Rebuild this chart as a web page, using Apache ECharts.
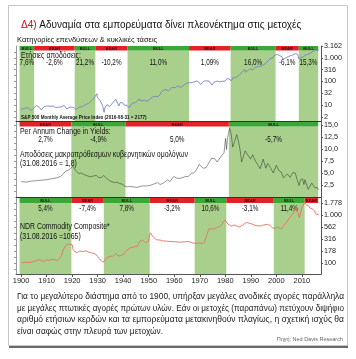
<!DOCTYPE html>
<html><head><meta charset="utf-8">
<script src="https://cdn.jsdelivr.net/npm/echarts@6/dist/echarts.min.js"></script>
<style>html,body{margin:0;padding:0;background:#fff}#c{width:356px;height:359px}</style>
</head><body><div id="c"></div>
<script>
// ---------- DATA ----------
const spYears=[1900.0,1900.5,1901.0,1901.4,1901.8,1902.3,1902.9,1903.5,1903.9,1904.5,1905.0,1905.5,1906.0,1906.6,1907.2,1907.9,1908.5,1909.0,1909.7,1910.3,1910.6,1911.2,1911.9,1912.6,1913.4,1914.2,1914.9,1915.6,1916.3,1916.9,1917.5,1917.9,1918.5,1919.2,1919.8,1920.5,1921.0,1921.6,1922.3,1922.9,1923.5,1923.9,1924.6,1925.2,1925.9,1926.4,1926.9,1927.5,1928.0,1928.6,1929.0,1929.4,1929.7,1929.9,1930.3,1930.9,1931.3,1931.9,1932.5,1932.8,1933.2,1933.6,1934.2,1934.7,1935.3,1935.9,1936.5,1937.1,1937.9,1938.3,1938.8,1939.3,1939.8,1940.4,1940.9,1941.5,1942.3,1942.9,1943.5,1944.2,1944.9,1945.5,1946.3,1946.8,1947.5,1948.4,1949.3,1949.9,1950.5,1951.0,1951.6,1952.4,1953.0,1953.7,1954.5,1955.0,1955.7,1956.3,1957.0,1957.8,1958.5,1959.0,1959.6,1960.4,1960.8,1961.5,1961.9,1962.5,1963.0,1963.9,1964.6,1965.4,1965.9,1966.4,1966.8,1967.5,1968.1,1968.9,1969.5,1970.4,1970.9,1971.4,1971.9,1972.5,1973.0,1973.6,1974.2,1974.8,1975.5,1976.2,1976.9,1977.7,1978.2,1978.7,1979.4,1979.9,1980.3,1980.9,1981.6,1982.5,1982.9,1983.5,1984.4,1984.9,1985.6,1986.3,1986.8,1987.6,1987.9,1988.6,1989.6,1990.3,1990.8,1991.5,1992.2,1992.9,1993.6,1994.3,1994.9,1995.6,1996.2,1996.8,1997.5,1998.1,1998.7,1999.0,1999.5,2000.2,2000.7,2001.2,2001.7,2002.2,2002.7,2003.2,2003.7,2004.2,2004.8,2005.5,2006.3,2006.9,2007.5,2007.8,2008.4,2008.9,2009.2,2009.7,2010.3,2010.6,2011.3,2011.8,2012.3,2012.9,2013.5,2014.0,2014.6,2015.4,2015.7,2016.1,2016.4,2016.67];
const spValues=[6.6,6.4,7.3,8.2,7.6,8.3,7.7,6.6,5.9,6.6,7.8,8.6,9.6,9.0,8.1,6.3,7.4,8.6,10.2,9.3,8.1,9.0,8.4,9.2,8.0,8.1,7.4,8.4,9.2,9.7,9.0,6.9,7.7,8.3,9.4,8.1,7.1,6.6,7.9,8.4,8.8,8.5,9.1,10.5,12.2,11.8,13.3,15.2,17.2,19.2,23.5,25.0,30.5,21.5,24.5,16.0,15.4,9.7,5.0,7.5,6.3,10.5,10.2,8.8,9.5,12.6,15.0,18.0,11.5,9.2,12.8,11.0,12.7,10.0,10.7,9.9,7.8,9.3,12.0,12.0,13.0,14.8,18.5,15.0,15.2,16.2,14.5,16.5,18.0,21.3,22.5,23.7,26.0,23.2,29.0,36.0,42.5,46.5,45.0,40.5,45.5,55.5,59.0,55.0,53.5,65.5,71.0,55.5,65.0,72.5,83.0,88.0,91.5,89.0,77.5,93.0,90.0,106.5,96.0,76.0,84.0,101.0,93.0,107.0,118.0,104.0,96.0,70.0,92.0,101.0,104.0,97.0,88.0,102.0,100.0,104.0,102.0,137.0,130.0,110.0,138.0,165.0,155.0,166.0,189.0,235.0,238.0,320.0,242.0,265.0,345.0,340.0,310.0,385.0,410.0,425.0,450.0,455.0,460.0,560.0,650.0,740.0,915.0,1000.0,1000.0,1215.0,1370.0,1410.0,1480.0,1250.0,1080.0,1120.0,850.0,860.0,1000.0,1130.0,1150.0,1210.0,1300.0,1400.0,1500.0,1530.0,1380.0,880.0,760.0,1050.0,1200.0,1070.0,1340.0,1180.0,1390.0,1420.0,1640.0,1800.0,1960.0,2100.0,1950.0,1950.0,2080.0,2177.0];

const bondYears=[1900.0,1902.0,1904.0,1906.0,1908.0,1910.0,1912.0,1914.0,1915.5,1916.5,1917.5,1918.5,1919.3,1920.2,1920.8,1921.5,1922.5,1923.5,1925.0,1927.0,1928.5,1929.5,1930.5,1931.5,1932.3,1933.5,1935.0,1936.5,1937.5,1938.5,1939.5,1940.5,1941.5,1942.5,1944.0,1945.5,1946.5,1947.5,1949.0,1950.5,1952.0,1953.5,1954.5,1956.0,1957.5,1958.3,1959.8,1961.0,1962.5,1964.0,1965.5,1966.7,1967.5,1968.5,1969.8,1970.5,1971.3,1972.5,1973.7,1974.7,1975.8,1976.8,1977.5,1978.5,1979.5,1980.1,1980.5,1980.9,1981.7,1982.3,1982.9,1983.6,1984.5,1985.2,1985.9,1986.4,1987.0,1987.8,1988.5,1989.2,1989.9,1990.7,1991.8,1992.5,1993.7,1994.8,1995.9,1996.6,1997.9,1998.8,2000.0,2001.0,2001.9,2002.8,2003.4,2004.3,2005.4,2006.5,2007.4,2008.1,2008.9,2009.5,2010.3,2010.8,2011.2,2012.5,2013.2,2013.9,2014.5,2015.1,2015.5,2016.0,2016.5,2016.67];
const bondValues=[3.2,3.1,3.3,3.4,3.5,3.6,3.8,4.0,4.3,4.8,5.4,5.6,5.9,6.4,6.0,5.5,4.9,5.0,4.6,4.2,4.4,4.5,4.0,4.1,4.5,3.9,3.3,3.0,3.1,2.8,2.7,2.3,2.1,2.2,2.1,2.0,2.2,2.3,2.3,2.4,2.7,3.0,2.6,3.0,3.6,3.2,4.3,3.9,3.9,4.2,4.3,4.9,5.0,5.5,6.8,7.1,6.0,6.1,7.3,8.1,8.0,7.3,7.6,8.6,9.2,12.2,9.9,12.4,14.3,13.2,10.4,11.5,13.0,11.5,9.5,7.3,7.5,9.6,9.0,9.0,7.9,8.8,7.5,7.4,5.9,7.9,6.0,7.0,5.9,5.0,6.6,5.5,5.2,4.0,3.6,4.8,4.1,5.1,5.0,3.7,2.4,3.6,3.8,2.6,3.6,1.6,2.0,2.9,2.5,1.9,2.3,2.0,1.5,1.6];

const comYears=[1900.0,1901.5,1903.0,1904.6,1906.0,1907.5,1908.5,1910.0,1911.0,1912.5,1914.0,1915.0,1915.8,1916.5,1917.4,1918.0,1918.6,1919.3,1920.0,1920.4,1921.0,1922.0,1923.0,1924.3,1925.5,1926.5,1928.0,1929.2,1930.0,1931.0,1932.2,1932.9,1933.8,1935.0,1936.2,1937.3,1938.0,1939.0,1940.0,1941.0,1942.5,1944.0,1945.5,1946.5,1947.5,1948.0,1949.0,1949.8,1950.6,1951.3,1952.0,1953.0,1954.5,1955.5,1957.0,1958.3,1960.0,1962.0,1964.0,1965.5,1966.5,1968.0,1969.5,1970.5,1971.3,1972.0,1972.8,1973.6,1974.3,1975.2,1976.5,1977.8,1978.8,1979.8,1980.4,1981.0,1982.3,1983.5,1984.4,1985.5,1986.5,1987.5,1988.3,1989.5,1990.8,1992.0,1993.8,1995.0,1996.5,1997.5,1998.8,1999.5,2000.5,2001.8,2002.7,2004.0,2005.3,2006.5,2007.7,2008.2,2008.6,2009.0,2009.9,2010.5,2011.2,2011.8,2012.6,2013.1,2014.0,2014.8,2015.5,2016.0,2016.67];
const comValues=[100,104,102,106,112,118,108,116,114,120,112,122,140,185,230,228,248,272,240,190,172,165,178,172,180,168,160,152,135,115,104,115,130,138,140,158,140,142,150,175,205,215,225,280,300,310,262,280,420,380,340,305,300,290,285,280,278,272,275,282,270,255,262,258,252,285,395,520,480,505,540,575,650,790,720,650,580,620,590,560,600,660,700,670,640,600,590,620,640,610,520,505,560,510,590,700,890,1050,1460,1250,1050,880,1350,1580,1850,1600,1550,1400,1350,1250,1050,980,1000];

// cycles
const stockEdges=[1899.4,1905.1,1921.0,1929.1,1941.7,1965.8,1982.1,1999.7,2008.8,2016.4];
const stockTypes=['BULL','BEAR','BULL','BEAR','BULL','BEAR','BULL','BEAR','BULL'];
const stockReturns=['7,6%','-2,6%','21,2%','-10,2%','11,0%','1,09%','16,0%','-6,1%','15,3%'];
const bondEdges=[1899.4,1919.7,1940.9,1981.4,2016.4];
const bondTypes=['BEAR','BULL','BEAR','BULL'];
const bondReturns=['2,7%','-4,9%','5,0%','-5,7%'];
const comEdges=[1899.4,1919.7,1932.4,1950.4,1968.0,1980.4,1999.0,2011.1,2016.4];
const comTypes=['BULL','BEAR','BULL','BEAR','BULL','BEAR','BULL','BEAR'];
const comReturns=['5,4%','-7,4%','7,8%','-3,2%','10,6%','-3,1%','11,4%',''];

// tick labels
const yearTicks=[1900,1910,1920,1930,1940,1950,1960,1970,1980,1990,2000,2010];
const stockTickValues=[3.162,10,31.62,100,316.2,1000,3162];
const stockTickLabels=['2','10','32','100','316','1.000','3.162'];
const bondTickValues=[2.5,5,7.5,10,12.5,15];
const bondTickLabels=['2,5','5,0','7,5','10,0','12,5','15,0'];
const comTickValues=[100,177.8,316.2,562.3,1000,1778];
const comTickLabels=['100','178','316','562','1.000','1.778'];

// ---------- CHART ----------
const SANS="'Liberation Sans',Arial,sans-serif";
const SX=0.77;   // condensing for captions
const SXP=0.74;  // condensing for return labels
const chart=echarts.init(document.getElementById('c'),null,{renderer:'canvas'});
const L=Math.log10;
const C={bodyGreen:'#a8d08c',hdrGreen:'#3da638',hdrRed:'#e3212a'};

const panels=[
 {top:46,h:75,min:L(3162)-75/23.67,max:L(3162),ticks:stockTickValues.map(L),labels:stockTickLabels,
  leftTicks:[0.5,0.75,1,1.25,1.5,1.75,2,2.25,2.5,2.75,3,3.25],
  edges:stockEdges,types:stockTypes,rets:stockReturns,retDy:17,hdr:4.5},
 {top:122,h:75,min:0,max:15.625,ticks:bondTickValues,labels:bondTickLabels,
  leftTicks:[1.25,2.5,3.75,5,6.25,7.5,8.75,10,11.25,12.5,13.75,15],
  edges:bondEdges,types:bondTypes,rets:bondReturns,retDy:17.3,hdr:4.5},
 {top:198,h:76,min:2-11/48,max:3.25+5/48,ticks:comTickValues.map(L),labels:comTickLabels,
  leftTicks:[1.875,2,2.125,2.25,2.375,2.5,2.625,2.75,2.875,3,3.125,3.25],
  edges:comEdges,types:comTypes,rets:comReturns,retDy:10.5,hdr:5}
];

const grid=[],xAxis=[],yAxis=[],series=[];
panels.forEach((p,g)=>{
  grid.push({left:16,width:305,top:p.top,height:p.h});
  xAxis.push({type:'value',gridIndex:g,min:1898,max:2017.5,
    axisLine:{show:true,onZero:false,lineStyle:{color:g<2?'#333':'#555',width:1}},
    axisTick:{show:g===2,length:3,customValues:yearTicks,lineStyle:{color:'#555'}},
    axisLabel:{show:g===2,customValues:yearTicks,formatter:v=>String(Math.round(v)),fontFamily:SANS,fontSize:7.5,color:'#222',margin:3},
    splitLine:{show:false}});
  const lab=p.labels, tv=p.ticks;
  yAxis.push({type:'value',gridIndex:g,position:'right',min:p.min,max:p.max,
    axisLine:{show:true,lineStyle:{color:'#555'}},
    axisTick:{show:true,length:2,customValues:tv,lineStyle:{color:'#555'}},
    axisLabel:{show:true,customValues:tv,margin:3,fontFamily:SANS,fontSize:7.2,color:'#222',
      formatter:v=>{let b=0,d=1e9;tv.forEach((t,i)=>{const e=Math.abs(t-v);if(e<d){d=e;b=i;}});return lab[b];}},
    splitLine:{show:false}});
  yAxis.push({type:'value',gridIndex:g,position:'left',min:p.min,max:p.max,
    axisLine:{show:true,lineStyle:{color:'#999'}},
    axisTick:{show:true,length:2,customValues:p.leftTicks,lineStyle:{color:'#999'}},
    axisLabel:{show:false},splitLine:{show:false}});
  const data=p.types.map((t,i)=>[p.edges[i],p.edges[i+1],p.min,i]);
  series.push({type:'custom',xAxisIndex:g,yAxisIndex:2*g,silent:true,z:1,clip:false,
    encode:{x:[0,1],y:2},data,
    renderItem:(params,api)=>{
      const cs=params.coordSys;const i=api.value(3);
      const x1=api.coord([api.value(0),p.min])[0],x2=api.coord([api.value(1),p.min])[0];
      const bull=p.types[i]==='BULL';
      const ch=[];
      if(bull) ch.push({type:'rect',shape:{x:x1,y:cs.y+p.hdr,width:x2-x1,height:cs.height-p.hdr},style:{fill:C.bodyGreen}});
      ch.push({type:'rect',shape:{x:x1,y:cs.y,width:x2-x1,height:p.hdr},style:{fill:bull?C.hdrGreen:C.hdrRed}});
      ch.push({type:'text',style:{text:p.types[i],x:(x1+x2)/2,y:cs.y+p.hdr/2+0.3,align:'center',verticalAlign:'middle',font:'bold 4px '+SANS,fill:'#3a1010'}});
      if(p.rets[i]) ch.push({type:'text',z2:5,x:(x1+x2)/2,y:cs.y+p.retDy,scaleX:SXP,style:{text:p.rets[i],x:0,y:0,align:'center',verticalAlign:'middle',font:'8.6px '+SANS,fill:'#111'}});
      return {type:'group',children:ch};
    }});
});
series.push({type:'line',xAxisIndex:0,yAxisIndex:0,z:3,symbol:'none',lineStyle:{color:'#7880c8',width:0.9},
  data:spYears.map((y,i)=>[y,L(spValues[i])])});
series.push({type:'line',xAxisIndex:1,yAxisIndex:2,z:3,symbol:'none',lineStyle:{color:'rgba(35,40,35,0.55)',width:0.9},
  data:bondYears.map((y,i)=>[y,bondValues[i]])});
series.push({type:'line',xAxisIndex:2,yAxisIndex:4,z:3,symbol:'none',lineStyle:{color:'#ec6f62',width:0.9},
  data:comYears.map((y,i)=>[y,L(comValues[i])])});

function txt(text,x,y,font,fill,align,sx){return {type:'text',z:10,x,y,scaleX:sx||1,style:{text,x:0,y:0,font,fill:fill||'#111',align:align||'left',verticalAlign:'middle'}};}

// justified paragraph
const paraLines=['Για το μεγαλύτερο διάστημα από το 1900, υπήρξαν μεγάλες ανοδικές αγορές παράλληλα',
 'με μεγάλες πτωτικές αγορές πρώτων υλών. Εάν οι μετοχές (παραπάνω) πετύχουν διψήφιο',
 'αριθμό ετήσιων κερδών και τα εμπορεύματα μετακινηθούν πλαγίως, η σχετική ισχύς θα',
 'είναι σαφώς στην πλευρά των μετοχών.'];
const PF='8.3px '+SANS;
const mc=document.createElement('canvas').getContext('2d');mc.font=PF;
const scales=paraLines.slice(0,3).map(t=>327/mc.measureText(t).width);
const avgS=scales.reduce((a,b)=>a+b,0)/3;
const paraGraphics=paraLines.map((t,i)=>txt(t,17,297+i*11.5,PF,'#222','left',i<3?scales[i]:avgS));

const option={
  animation:false,
  grid,xAxis,yAxis,series,
  title:[
    {text:'{r|Δ4)} Αδυναμία στα εμπορεύματα δίνει πλεονέκτημα στις μετοχές',left:16,top:15,
     textStyle:{fontFamily:SANS,fontSize:10,fontWeight:'normal',color:'#111',rich:{r:{color:'#e30613',fontFamily:SANS,fontSize:10}}}},
  ],
  graphic:[
    {type:'rect',z:-1,shape:{x:9,y:345,width:339,height:3},style:{fill:'#6a6a6a'}},
    {type:'rect',z:-1,shape:{x:8.5,y:5.5,width:339,height:340},style:{fill:'#fff',stroke:'#c6c6c6',lineWidth:1}},
    txt('Κατηγορίες επενδύσεων & κυκλικές τάσεις',17,40,'7.5px '+SANS),
    txt('Ετήσιες αποδόσεις:',21,56,'9px '+SANS,null,null,SX),
    txt('S&P 500 Monthly Average Price Index (2016-08-31 = 2177)',21,118,'bold 4.6px '+SANS),
    txt('Per Annum Change in Yields:',20,131.5,'9px '+SANS,null,null,SX),
    txt('Αποδόσεις μακροπρόθεσμων κυβερνητικών ομολόγων',20,154.5,'9px '+SANS,null,null,SX),
    txt('(31.08.2016 = 1,8)',20,164,'9px '+SANS,null,null,SX),
    txt('NDR Commodity Composite*',20,226.7,'9px '+SANS,null,null,SX),
    txt('(31.08.2016 =1065)',20,237,'9px '+SANS,null,null,SX),
    ...paraGraphics,
    txt('Πηγή: Ned Davis Research',343,339.5,'5.5px '+SANS,'#666','right')
  ]
};
chart.setOption(option);
</script></body></html>
